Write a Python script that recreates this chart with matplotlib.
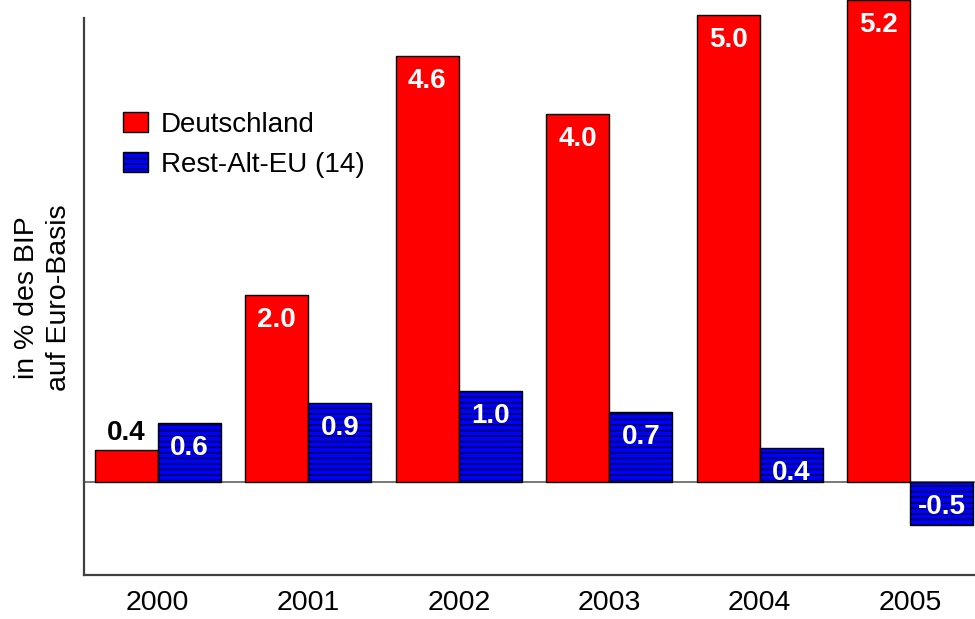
import matplotlib

matplotlib.use("Agg")
import matplotlib.pyplot as plt
import numpy as np

# values
years = ["2000", "2001", "2002", "2003", "2004", "2005"]
deutschland = [0.35, 2.02, 4.59, 3.97, 5.03, 5.19]
rest_alt_eu = [0.64, 0.85, 0.98, 0.76, 0.37, -0.46]
deutschland_labels = ["0.4", "2.0", "4.6", "4.0", "5.0", "5.2"]
rest_labels = ["0.6", "0.9", "1.0", "0.7", "0.4", "-0.5"]

plt.rcParams["font.family"] = ["Liberation Sans", "DejaVu Sans"]
plt.rcParams["hatch.linewidth"] = 1.3

fig = plt.figure(figsize=(9.75, 6.19), dpi=100)
ax = fig.add_axes([84 / 975, 44 / 619, 891 / 975, 557 / 619])

x = np.arange(len(years))
w = 0.42
red = ax.bar(x - w / 2, deutschland, w, color="#ff0000", edgecolor="black",
             linewidth=1.0, clip_on=False, zorder=3, label="Deutschland")
blue = ax.bar(x + w / 2, rest_alt_eu, w, color="#0000ff", edgecolor="#000060",
              hatch="---", linewidth=1.0, clip_on=False, zorder=3,
              label="Rest-Alt-EU (14)")
for b in blue:
    b.set_edgecolor("black")
    b._hatch_color = matplotlib.colors.to_rgba("#000060")

ax.axhline(0, color="#606060", linewidth=1.2, zorder=2)

# value labels
for xi, v, s in zip(x - w / 2, deutschland, deutschland_labels):
    if v < 0.5:
        ax.annotate(s, (xi, v), xytext=(0, 12), textcoords="offset points",
                    ha="center", va="center", fontsize=20, fontweight="bold",
                    color="black", zorder=5)
    else:
        ax.annotate(s, (xi, v), xytext=(0, -18), textcoords="offset points",
                    ha="center", va="center", fontsize=20, fontweight="bold",
                    color="white", zorder=5, annotation_clip=False)
for xi, v, s in zip(x + w / 2, rest_alt_eu, rest_labels):
    ax.annotate(s, (xi, max(v, 0)), xytext=(0, -18), textcoords="offset points",
                ha="center", va="center", fontsize=20, fontweight="bold",
                color="white", zorder=5)

ax.set_xlim(-0.49, 5.43)
ax.set_ylim(-1.0, 5.0)
ax.set_xticks(x)
ax.set_xticklabels(years, fontsize=20.5)
ax.tick_params(axis="x", length=0, pad=11)
ax.set_yticks([])
for side in ["top", "right"]:
    ax.spines[side].set_visible(False)
for side in ["left", "bottom"]:
    ax.spines[side].set_color("#404040")
    ax.spines[side].set_linewidth(1.6)

fig.text(43 / 975, (619 - 298) / 619, "in % des BIP\nauf Euro-Basis", rotation=90,
         ha="center", va="center", multialignment="center", fontsize=20.5,
         linespacing=1.3)

ax.legend(loc="upper left", bbox_to_anchor=(0.044, 0.832), frameon=False,
          fontsize=20, handlelength=0.9, handleheight=0.72, handletextpad=0.45,
          labelspacing=0.52, borderpad=0, borderaxespad=0)

fig.savefig("out.png", dpi=100)
